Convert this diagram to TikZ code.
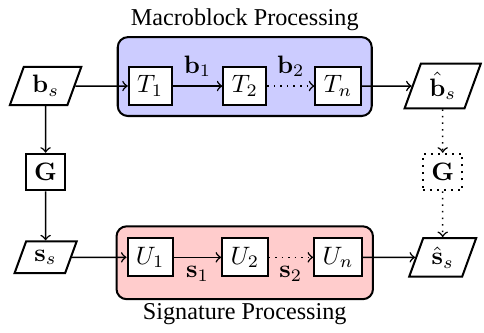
\documentclass[tikz,border=0pt]{standalone}
\usepackage[no-math]{fontspec}
\setmainfont{Liberation Serif}
\usepackage{amsmath}
\usetikzlibrary{shapes.geometric, positioning, fit, backgrounds}

\begin{document}
\begin{tikzpicture}[node distance={1.32cm}, semithick,
    blk/.style = {draw, thick, fill=white, minimum height=14.5pt},
    io/.style = {draw, thick, trapezium, trapezium left angle=70, trapezium right angle=110},
    stage/.style = {draw, thick, rounded corners=4pt, inner xsep=4pt},
    caption/.style = {font=\fontsize{9.6pt}{11pt}\selectfont}]
            \useasboundingbox (-0.636,1.2) rectangle (6.116,-3.432);
            % macroblock chain
            \node[io] (bs) {$\mathbf{b}_s$};
            \node[blk] (T1) [right of=bs, node distance=1.46cm] {$T_1$};
            \node[blk] (T2) [right of=T1] {$T_2$};
            \node[blk] (Tn) [right of=T2, node distance=1.3cm] {$T_n$};
            \node[io] (bh) [right of=Tn, node distance=1.46cm] {$\hat{\mathbf{b}}_s$};
            % generator matrices
            \node[blk] (G) [below of=bs, node distance=1.2cm] {$\mathbf{G}$};
            \node[blk, dotted] (Gh) [below of=bh, node distance=1.2cm] {$\mathbf{G}$};
            % signature chain
            \node[io] (ss) [below of=G, node distance=1.19cm] {$\mathbf{s}_s$};
            \node[blk] (U1) [right of=ss, node distance=1.46cm] {$U_1$};
            \node[blk] (U2) [right of=U1] {$U_2$};
            \node[blk] (Un) [right of=U2, node distance=1.3cm] {$U_n$};
            \node[io] (sh) [right of=Un, node distance=1.46cm] {$\hat{\mathbf{s}}_s$};

            \begin{scope}[on background layer]
            \node[stage, fill=blue!20, fit=(T1)(Tn), inner ysep=7.75pt, yshift=3.75pt] (mbox) {};
            \node[stage, fill=red!20, fit=(U1)(Un), inner ysep=6.55pt, yshift=-2.15pt] (sbox) {};
            \end{scope}
            \node[caption] (mtitle) [above=-1.5pt of mbox] {Macroblock Processing};
            \node[caption] (stitle) [below=-2.4pt of sbox] {Signature Processing};

            \draw[->] (bs) -- (T1);
            \draw[->] (T1) -- node[above]{$\mathbf{b}_1$} (T2);
            \draw[->, dotted] (T2) -- node[above]{$\mathbf{b}_2$} (Tn);
            \draw[->] (Tn) -- (bh);
            \draw[->] (bs) -- (G);
            \draw[->] (G) -- (ss);
            \draw[->, dotted] (bh) -- (Gh);
            \draw[->, dotted] (Gh) -- (sh);
            \draw[->] (ss) -- (U1);
            \draw[->] (U1) -- node[below]{$\mathbf{s}_1$} (U2);
            \draw[->, dotted] (U2) -- node[below]{$\mathbf{s}_2$} (Un);
            \draw[->] (Un) -- (sh);
            \end{tikzpicture}
\end{document}
